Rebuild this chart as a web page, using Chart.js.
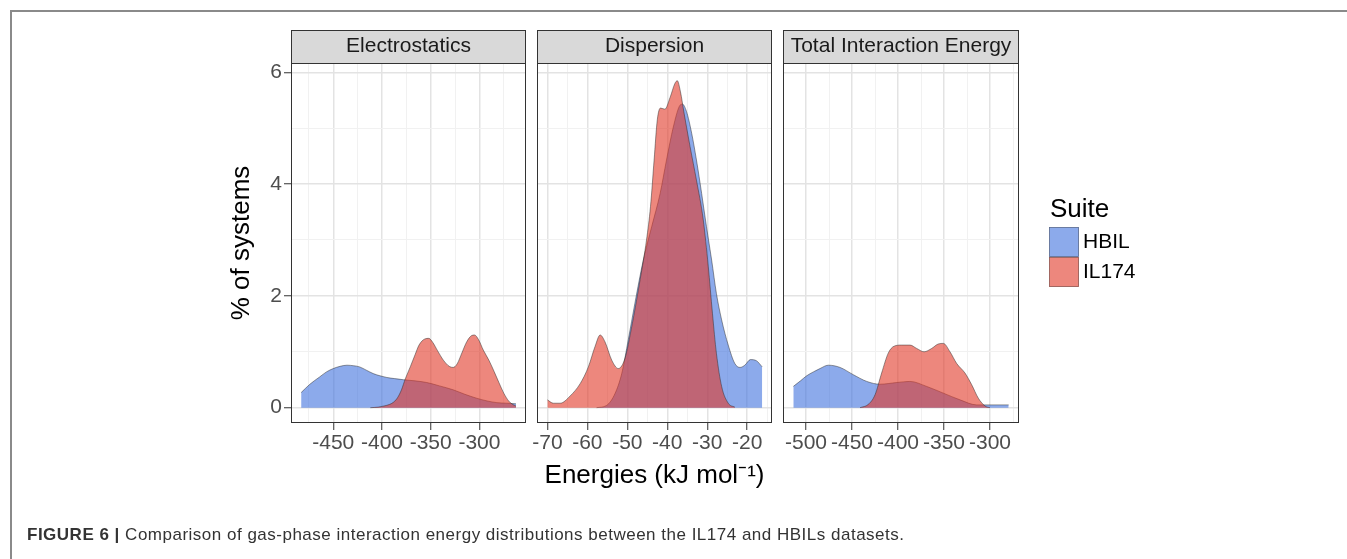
<!DOCTYPE html>
<html lang="en">
  <head>
    <meta charset="UTF-8" />
    <title>Gas-phase interaction energy distributions</title>
    <style>
      body {
        margin: 0;
        background: #fff;
        font-family: "Liberation Sans", Arial, sans-serif;
      }
      #wrap {
        position: relative;
        width: 1347px;
        height: 559px;
        overflow: hidden;
      }
      #frame {
        position: absolute;
        left: 10px;
        top: 10px;
        width: 1400px;
        height: 600px;
        border-top: 2px solid #8a8a8a;
        border-left: 2px solid #8a8a8a;
      }
      .panel {
        position: absolute;
        left: 0;
        top: 0;
      }
      #caption {
        position: absolute;
        left: 27px;
        top: 526px;
        font-size: 17px;
        line-height: 17px;
        letter-spacing: 0.5px;
        color: #333;
        white-space: nowrap;
      }
    </style>
    <script src="https://cdn.jsdelivr.net/npm/chart.js@4.4.0/dist/chart.umd.min.js"></script>
  </head>
  <body>
    <div id="wrap">
      <div id="frame"></div>
      <canvas id="elecChart" class="panel" width="1347" height="559"></canvas>
      <canvas id="dispChart" class="panel" width="1347" height="559"></canvas>
      <canvas id="totalChart" class="panel" width="1347" height="559"></canvas>
      <div id="caption"><b>FIGURE 6 |</b> Comparison of gas-phase interaction energy distributions between the IL174 and HBILs datasets.</div>
    </div>
    <script>
      // series names and panel titles
      const suites = ["HBIL", "IL174"];
      const legendTitle = "Suite";
      const panelTitles = ["Electrostatics", "Dispersion", "Total Interaction Energy"];
      const yTitle = "% of systems";
      const xTitle = "Energies (kJ mol\u207B\u00B9)";

      // tick labels
      const yTicks = [0, 2, 4, 6];
      const elecTicks = [-450, -400, -350, -300];
      const dispTicks = [-70, -60, -50, -40, -30, -20];
      const totalTicks = [-500, -450, -400, -350, -300];

      // Electrostatics densities
      const elecHbilX = [-483, -474, -464, -457, -450, -443, -436, -429, -423, -416, -409, -402, -395, -387, -378, -366, -354, -341, -327, -315, -303, -292, -282, -272, -262.5];
      const elecHbilY = [0.27, 0.42, 0.55, 0.64, 0.7, 0.74, 0.76, 0.75, 0.73, 0.67, 0.61, 0.57, 0.54, 0.52, 0.5, 0.48, 0.45, 0.39, 0.32, 0.24, 0.17, 0.12, 0.09, 0.08, 0.07];
      const elecIl174X = [-412, -404, -398, -392, -388, -384, -380, -376, -371, -366, -362, -356, -352, -348, -343, -337, -331, -327, -323, -318, -313, -308, -305, -301, -296, -290, -285, -280, -275, -270, -266, -262.5];
      const elecIl174Y = [0, 0.01, 0.03, 0.06, 0.1, 0.18, 0.32, 0.52, 0.73, 0.95, 1.12, 1.23, 1.24, 1.17, 1.02, 0.85, 0.74, 0.72, 0.78, 0.98, 1.18, 1.29, 1.3, 1.22, 1.03, 0.84, 0.65, 0.45, 0.26, 0.12, 0.06, 0.03];

      // Dispersion densities
      const dispHbilX = [-57.7, -55.2, -53.1, -51.4, -49.75, -48.1, -46, -43.9, -41.8, -40.2, -38.5, -37, -36.2, -35.2, -33.9, -32.7, -31.4, -30.2, -28.9, -27.7, -26.4, -24.75, -23.1, -21.8, -20.6, -19.2, -17.7, -16.25];
      const dispHbilY = [0, 0.04, 0.25, 0.61, 1.22, 1.87, 2.64, 3.24, 3.83, 4.43, 5.02, 5.39, 5.43, 5.3, 4.91, 4.43, 3.83, 3.24, 2.64, 2.04, 1.57, 1.12, 0.79, 0.72, 0.76, 0.86, 0.84, 0.73];
      const dispIl174X = [-70, -68.5, -66.8, -64.3, -61.8, -59.75, -58.1, -56.8, -55.6, -53.9, -52.25, -50.6, -48.9, -46.8, -45.2, -44.2, -43.3, -42.5, -41.7, -40.6, -39.3, -38.1, -37.5, -36.7, -35.8, -34.3, -32.7, -31, -29.75, -28.7, -27.7, -26.4, -24.75, -23.1];
      const dispIl174Y = [0.14, 0.08, 0.08, 0.21, 0.43, 0.73, 1.09, 1.3, 1.18, 0.85, 0.7, 0.88, 1.45, 2.29, 3.0, 3.6, 4.43, 5.15, 5.36, 5.34, 5.55, 5.8, 5.85, 5.65, 5.27, 4.67, 4.07, 3.36, 2.53, 1.69, 0.97, 0.38, 0.08, 0.01];

      // Total interaction energy densities
      const totalHbilX = [-513.8, -506, -499.3, -492, -484.8, -475.7, -463, -448.6, -434, -419.6, -401.4, -387, -368.8, -350.7, -332.6, -314.5, -300, -279.7];
      const totalHbilY = [0.38, 0.48, 0.57, 0.64, 0.7, 0.76, 0.72, 0.59, 0.47, 0.42, 0.45, 0.47, 0.38, 0.26, 0.14, 0.05, 0.05, 0.05];
      const totalIl174X = [-441.3, -432.2, -425, -417.8, -410.5, -404.3, -396, -387, -379.7, -371.7, -363.4, -356.2, -350.7, -343.5, -336.2, -327.2, -319.9, -312.7, -305.4, -300];
      const totalIl174Y = [0, 0.06, 0.23, 0.62, 0.98, 1.1, 1.12, 1.12, 1.06, 1.0, 1.06, 1.14, 1.15, 1.0, 0.79, 0.62, 0.41, 0.17, 0.03, 0];

      Chart.defaults.font.family = "'Liberation Sans', Arial, sans-serif";
      Chart.defaults.color = "#4d4d4d";

      const hbilFill = "rgba(63, 113, 222, 0.6)";
      const il174Fill = "rgba(225, 55, 38, 0.6)";
      const outline = "rgba(40, 40, 40, 0.8)";

      const points = (xs, ys) => xs.map((x, i) => ({ x: x, y: ys[i] }));

      // major breaks plus the ggplot-style minor breaks half way between them
      const withMinor = (major, min, max) => {
        const step = major[1] - major[0];
        const all = [];
        for (let v = major[0] - step; v <= major[major.length - 1] + step; v += step / 2) {
          if (v > min && v < max) all.push(v);
        }
        return all;
      };

      const stripBox = {
        id: "stripBox",
        beforeDraw(chart) {
          const a = chart.chartArea;
          const t = chart.titleBlock;
          const ctx = chart.ctx;
          ctx.save();
          ctx.fillStyle = "#d9d9d9";
          ctx.fillRect(a.left, t.top, a.right - a.left, a.top - t.top);
          ctx.strokeStyle = "#333";
          ctx.lineWidth = 1;
          ctx.strokeRect(a.left + 0.5, t.top + 0.5, a.right - a.left - 1, a.top - t.top);
          ctx.restore();
        },
        afterDraw(chart) {
          const a = chart.chartArea;
          const ctx = chart.ctx;
          ctx.save();
          ctx.strokeStyle = "#333";
          ctx.lineWidth = 1;
          ctx.strokeRect(a.left + 0.5, a.top + 0.5, a.right - a.left - 1, a.bottom - a.top - 1);
          ctx.restore();
        },
      };

      const suiteLegend = {
        id: "suiteLegend",
        afterDraw(chart) {
          const a = chart.chartArea;
          const ctx = chart.ctx;
          const x = a.right + 30;
          const top = (a.top + a.bottom) / 2 - 16;
          ctx.save();
          ctx.textAlign = "left";
          ctx.textBaseline = "middle";
          ctx.fillStyle = "#000";
          ctx.font = "26px 'Liberation Sans', Arial, sans-serif";
          ctx.fillText(legendTitle, x + 1, top - 17);
          ctx.font = "21px 'Liberation Sans', Arial, sans-serif";
          suites.forEach((name, i) => {
            const ds = chart.data.datasets.find((d) => d.label === name);
            const y = top + i * 30;
            ctx.fillStyle = "#fff";
            ctx.fillRect(x, y, 30, 30);
            ctx.fillStyle = ds.backgroundColor;
            ctx.fillRect(x, y, 30, 30);
            ctx.strokeStyle = "rgba(60, 60, 60, 0.6)";
            ctx.lineWidth = 0.7;
            ctx.strokeRect(x + 0.5, y + 0.5, 29, 29);
            ctx.fillStyle = "#000";
            ctx.fillText(name, x + 34, y + 15);
          });
          ctx.restore();
        },
      };

      const Y_MIN = -0.274;
      const Y_MAX = 6.166;

      function makePanel(canvasId, p) {
        const xAll = withMinor(p.xMajor, p.xMin, p.xMax);
        const yAll = withMinor(yTicks, Y_MIN, Y_MAX);
        const gridColor = (major) => (ctx) =>
          major.includes(ctx.tick.value) ? "#e3e3e3" : "#f1f1f1";
        const gridWidth = (major) => (ctx) => (major.includes(ctx.tick.value) ? 1.5 : 1);
        const tickColor = (major) => (ctx) =>
          major.includes(ctx.tick.value) ? "#333" : "rgba(0,0,0,0)";
        return new Chart(document.getElementById(canvasId), {
          type: "line",
          data: {
            datasets: [
              {
                label: suites[0],
                data: points(p.hbilX, p.hbilY),
                backgroundColor: hbilFill,
                borderColor: outline,
                borderWidth: 0.6,
                fill: "origin",
                pointRadius: 0,
                cubicInterpolationMode: "monotone",
                order: 1,
              },
              {
                label: suites[1],
                data: points(p.il174X, p.il174Y),
                backgroundColor: il174Fill,
                borderColor: outline,
                borderWidth: 0.6,
                fill: "origin",
                pointRadius: 0,
                cubicInterpolationMode: "monotone",
                order: 0,
              },
            ],
          },
          options: {
            responsive: false,
            animation: false,
            events: [],
            layout: { padding: p.padding },
            plugins: {
              legend: { display: false },
              tooltip: { enabled: false },
              title: {
                display: true,
                fullSize: false,
                text: p.title,
                color: "#1a1a1a",
                font: { size: 21, weight: "normal" },
                padding: { top: 3.9, bottom: 3.9 },
              },
            },
            scales: {
              x: {
                type: "linear",
                min: p.xMin,
                max: p.xMax,
                afterBuildTicks: (axis) => {
                  axis.ticks = xAll.map((v) => ({ value: v }));
                },
                afterFit: (axis) => {
                  axis.height = 72;
                  axis.paddingLeft = 0;
                  axis.paddingRight = 0;
                },
                ticks: {
                  autoSkip: false,
                  maxRotation: 0,
                  padding: 1,
                  color: "#4d4d4d",
                  font: { size: 21 },
                  callback: (v) => (p.xMajor.includes(v) ? String(v) : ""),
                },
                grid: {
                  color: gridColor(p.xMajor),
                  lineWidth: gridWidth(p.xMajor),
                  tickColor: tickColor(p.xMajor),
                  tickLength: 7,
                  tickWidth: 1,
                },
                border: { display: false },
                title: {
                  display: !!p.xTitle,
                  text: p.xTitle || "",
                  color: "#000",
                  font: { size: 26 },
                  padding: { top: 0, bottom: 3.5 },
                },
              },
              y: {
                type: "linear",
                min: Y_MIN,
                max: Y_MAX,
                afterBuildTicks: (axis) => {
                  axis.ticks = yAll.map((v) => ({ value: v }));
                },
                afterFit: (axis) => {
                  axis.width = p.yAxisWidth;
                  axis.paddingTop = 0;
                  axis.paddingBottom = 0;
                },
                ticks: {
                  display: p.showY,
                  padding: 2,
                  color: "#4d4d4d",
                  font: { size: 21 },
                  callback: (v) => (yTicks.includes(v) ? String(v) : ""),
                },
                grid: {
                  color: gridColor(yTicks),
                  lineWidth: gridWidth(yTicks),
                  tickColor: tickColor(yTicks),
                  drawTicks: p.showY,
                  tickLength: 7,
                  tickWidth: 1,
                },
                border: { display: false },
                title: {
                  display: p.showY,
                  text: yTitle,
                  color: "#000",
                  font: { size: 26 },
                  padding: 0,
                },
              },
            },
          },
          plugins: p.legend ? [stripBox, suiteLegend] : [stripBox],
        });
      }

      makePanel("elecChart", {
        title: panelTitles[0],
        hbilX: elecHbilX,
        hbilY: elecHbilY,
        il174X: elecIl174X,
        il174Y: elecIl174Y,
        xMajor: elecTicks,
        xMin: -493.4,
        xMax: -252.2,
        padding: { left: 226, right: 821, top: 30, bottom: 64 },
        yAxisWidth: 65,
        showY: true,
      });

      makePanel("dispChart", {
        title: panelTitles[1],
        hbilX: dispHbilX,
        hbilY: dispHbilY,
        il174X: dispIl174X,
        il174Y: dispIl174Y,
        xMajor: dispTicks,
        xMin: -72.6,
        xMax: -13.8,
        padding: { left: 537, right: 575, top: 30, bottom: 64 },
        yAxisWidth: 0,
        showY: false,
        xTitle: xTitle,
      });

      makePanel("totalChart", {
        title: panelTitles[2],
        hbilX: totalHbilX,
        hbilY: totalHbilY,
        il174X: totalIl174X,
        il174Y: totalIl174Y,
        xMajor: totalTicks,
        xMin: -525,
        xMax: -268.5,
        padding: { left: 783, right: 328, top: 30, bottom: 64 },
        yAxisWidth: 0,
        showY: false,
        legend: true,
      });
    </script>
  </body>
</html>
